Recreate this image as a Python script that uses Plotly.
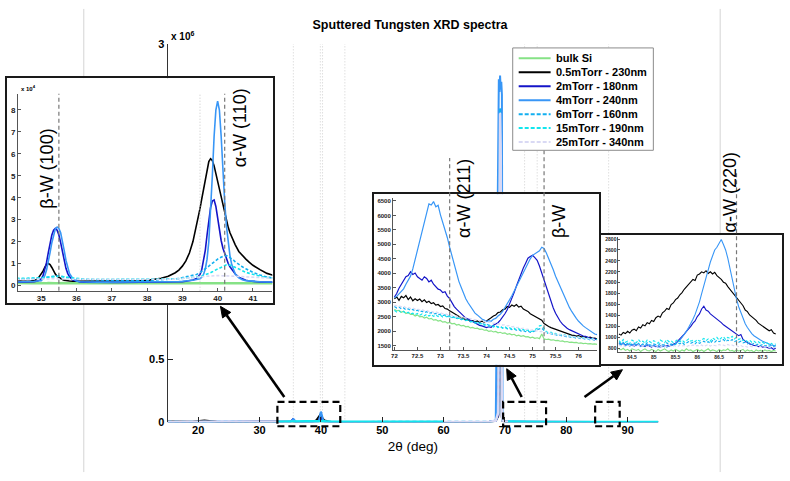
import plotly.graph_objects as go

W, H = 790, 481

# ---------------------------------------------------------------- data
names = ["bulk Si", "0.5mTorr - 230nm", "2mTorr - 180nm", "4mTorr - 240nm",
         "6mTorr - 160nm", "15mTorr - 190nm", "25mTorr - 340nm"]
keys = ["si", "p05", "p2", "p4", "p6", "p15", "p25"]

# --- window A : 34.3-41.6 deg, intensity in units of 1e4 counts
tt_a = [34.3, 34.4, 34.5, 34.6, 34.7, 34.8, 34.9,
        35.0, 35.05, 35.1, 35.15, 35.2, 35.25, 35.3, 35.35, 35.4, 35.45, 35.5, 35.55, 35.6, 35.65, 35.7, 35.75, 35.8,
        35.9, 36.0, 36.1, 36.2,
        36.4, 36.6, 36.8, 37.0, 37.2, 37.4, 37.6, 37.8, 38.0, 38.2, 38.4, 38.6, 38.8,
        38.9, 39.0, 39.1, 39.2, 39.3, 39.4,
        39.5, 39.55, 39.6, 39.65, 39.7, 39.75, 39.8, 39.85, 39.9, 39.95, 40.0, 40.05, 40.1, 40.15, 40.2, 40.25, 40.3, 40.35, 40.4, 40.45, 40.5,
        40.6, 40.7, 40.8, 40.9, 41.0,
        41.2, 41.4, 41.6]
a_si = [0.11, 0.10, 0.11, 0.10, 0.10, 0.11, 0.10,
        0.10, 0.11, 0.10, 0.10, 0.11, 0.10, 0.10, 0.11, 0.10, 0.10, 0.11, 0.10, 0.10, 0.11, 0.10, 0.10, 0.11,
        0.10, 0.10, 0.11, 0.10,
        0.10, 0.11, 0.10, 0.10, 0.11, 0.10, 0.10, 0.11, 0.10, 0.10, 0.11, 0.10, 0.10,
        0.11, 0.10, 0.10, 0.11, 0.10, 0.10,
        0.11, 0.10, 0.10, 0.11, 0.10, 0.10, 0.11, 0.10, 0.10, 0.11, 0.10, 0.10, 0.11, 0.10, 0.10, 0.11, 0.10, 0.10, 0.11, 0.10, 0.10,
        0.11, 0.10, 0.10, 0.11, 0.10,
        0.10, 0.11, 0.10]
a_p05 = [0.20, 0.19, 0.20, 0.19, 0.20, 0.22, 0.30,
         0.50, 0.65, 0.82, 0.95, 1.00, 0.95, 0.82, 0.66, 0.52, 0.42, 0.36, 0.31, 0.27, 0.24, 0.22, 0.21, 0.20,
         0.19, 0.19, 0.18, 0.18,
         0.18, 0.18, 0.18, 0.18, 0.19, 0.19, 0.20, 0.21, 0.23, 0.27, 0.33, 0.42, 0.58,
         0.70, 0.88, 1.12, 1.48, 2.00, 2.70,
         3.50, 3.95, 4.40, 4.90, 5.35, 5.65, 5.78, 5.70, 5.45, 5.10, 4.70, 4.35, 4.00, 3.60, 3.25, 2.95, 2.65, 2.40, 2.20, 2.00, 1.85,
         1.55, 1.35, 1.20, 1.05, 0.92,
         0.72, 0.55, 0.45]
a_p2 = [0.15, 0.15, 0.16, 0.15, 0.16, 0.17, 0.20,
        0.30, 0.45, 0.70, 1.05, 1.50, 1.95, 2.30, 2.52, 2.60, 2.52, 2.30, 1.95, 1.50, 1.10, 0.78, 0.55, 0.40,
        0.25, 0.19, 0.16, 0.15,
        0.14, 0.14, 0.14, 0.14, 0.14, 0.14, 0.14, 0.14, 0.14, 0.15, 0.15, 0.15, 0.16,
        0.16, 0.17, 0.19, 0.21, 0.25, 0.32,
        0.50, 0.72, 1.10, 1.60, 2.30, 3.00, 3.55, 3.85, 3.90, 3.60, 3.05, 2.50, 2.05, 1.70, 1.45, 1.20, 1.00, 0.85, 0.72, 0.62, 0.52,
        0.38, 0.30, 0.24, 0.20, 0.18,
        0.16, 0.15, 0.15]
a_p4 = [0.16, 0.16, 0.17, 0.17, 0.18, 0.19, 0.20,
        0.22, 0.30, 0.45, 0.70, 1.05, 1.50, 1.95, 2.35, 2.58, 2.66, 2.60, 2.40, 2.05, 1.60, 1.15, 0.80, 0.55,
        0.30, 0.20, 0.17, 0.16,
        0.15, 0.15, 0.15, 0.15, 0.15, 0.15, 0.15, 0.15, 0.15, 0.16, 0.16, 0.17, 0.18,
        0.18, 0.19, 0.20, 0.22, 0.24, 0.27,
        0.30, 0.38, 0.50, 0.75, 1.20, 2.00, 3.30, 5.00, 6.80, 8.00, 8.40, 8.00, 6.80, 5.20, 3.80, 2.70, 1.90, 1.35, 0.95, 0.70, 0.52,
        0.35, 0.26, 0.22, 0.20, 0.18,
        0.17, 0.16, 0.16]
a_p6 = [0.28, 0.29, 0.28, 0.29, 0.30, 0.30, 0.31,
        0.32, 0.34, 0.35, 0.37, 0.38, 0.40, 0.42, 0.44, 0.45, 0.46, 0.45, 0.43, 0.40, 0.38, 0.36, 0.35, 0.33,
        0.31, 0.29, 0.28, 0.27,
        0.26, 0.25, 0.24, 0.24, 0.23, 0.23, 0.22, 0.22, 0.23, 0.24, 0.25, 0.27, 0.30,
        0.32, 0.35, 0.38, 0.42, 0.46, 0.50,
        0.58, 0.63, 0.70, 0.76, 0.82, 0.88, 0.95, 1.02, 1.08, 1.14, 1.20, 1.25, 1.30, 1.33, 1.35, 1.36, 1.33, 1.28, 1.22, 1.15, 1.08,
        0.95, 0.85, 0.76, 0.68, 0.60,
        0.48, 0.38, 0.33]
a_p15 = [0.33, 0.32, 0.33, 0.33, 0.34, 0.33, 0.34,
         0.35, 0.36, 0.37, 0.38, 0.39, 0.40, 0.40, 0.41, 0.42, 0.42, 0.42, 0.41, 0.40, 0.38, 0.36, 0.35, 0.34,
         0.32, 0.30, 0.29, 0.29,
         0.28, 0.28, 0.28, 0.27, 0.27, 0.27, 0.27, 0.27, 0.27, 0.28, 0.28, 0.29, 0.30,
         0.31, 0.32, 0.33, 0.34, 0.35, 0.37,
         0.40, 0.42, 0.45, 0.48, 0.51, 0.55, 0.58, 0.62, 0.67, 0.71, 0.75, 0.80, 0.85, 0.89, 0.92, 0.94, 0.95, 0.94, 0.90, 0.86, 0.82,
         0.75, 0.67, 0.60, 0.55, 0.50,
         0.42, 0.37, 0.34]
a_p25 = [0.27, 0.27, 0.28, 0.27, 0.28, 0.28, 0.28,
         0.28, 0.29, 0.29, 0.30, 0.30, 0.30, 0.31, 0.31, 0.32, 0.32, 0.32, 0.31, 0.31, 0.30, 0.30, 0.29, 0.29,
         0.28, 0.28, 0.27, 0.27,
         0.26, 0.26, 0.25, 0.25, 0.25, 0.25, 0.25, 0.25, 0.26, 0.26, 0.27, 0.28, 0.29,
         0.30, 0.31, 0.32, 0.33, 0.35, 0.37,
         0.39, 0.40, 0.41, 0.42, 0.43, 0.43, 0.44, 0.44, 0.45, 0.45, 0.45, 0.45, 0.45, 0.45, 0.44, 0.44, 0.43, 0.43, 0.42, 0.42, 0.42,
         0.41, 0.40, 0.39, 0.39, 0.38,
         0.36, 0.34, 0.33]

# --- window B : 72.0-76.4 deg, counts
tt_b = [72.00, 72.05, 72.10, 72.15, 72.20, 72.25, 72.30, 72.35, 72.40, 72.45,
        72.50, 72.55, 72.60, 72.65, 72.70, 72.75, 72.80, 72.85, 72.90, 72.95,
        73.00, 73.05, 73.10, 73.15, 73.20, 73.25, 73.30, 73.35, 73.40, 73.45,
        73.50, 73.55, 73.60, 73.65, 73.70, 73.75, 73.80, 73.85, 73.90, 73.95,
        74.00, 74.05, 74.10, 74.15, 74.20, 74.25, 74.30, 74.35, 74.40, 74.45,
        74.50, 74.55, 74.60, 74.65, 74.70, 74.75, 74.80, 74.85, 74.90, 74.95,
        75.00, 75.05, 75.10, 75.15, 75.20, 75.25, 75.30, 75.35, 75.40, 75.45,
        75.50, 75.55, 75.60, 75.65, 75.70, 75.75, 75.80, 75.85, 75.90, 75.95,
        76.00, 76.05, 76.10, 76.15, 76.20, 76.25, 76.30, 76.35, 76.40]
b_si = [2760, 2700, 2720, 2650, 2690, 2610, 2640, 2580, 2590, 2520,
        2560, 2490, 2510, 2450, 2480, 2420, 2440, 2380, 2400, 2350,
        2370, 2310, 2330, 2280, 2300, 2250, 2270, 2210, 2230, 2180,
        2200, 2150, 2160, 2110, 2130, 2090, 2100, 2060, 2070, 2030,
        2040, 1990, 2010, 1970, 1990, 1940, 1960, 1920, 1940, 1890,
        1910, 1870, 1890, 1840, 1860, 1820, 1840, 1800, 1810, 1770,
        1790, 1750, 1770, 1740, 1900, 1730, 1710, 1720, 1690, 1700,
        1670, 1680, 1650, 1660, 1630, 1640, 1610, 1620, 1600, 1610,
        1580, 1590, 1570, 1580, 1560, 1570, 1550, 1560, 1540]
b_p05 = [3120, 3180, 3060, 3200, 3150, 3230, 3090, 3180, 3050, 3120,
         3060, 3110, 3020, 3080, 2990, 3030, 2950, 2980, 2900, 2920,
         2850, 2870, 2780, 2760, 2700, 2650, 2600, 2540, 2520, 2460,
         2440, 2380, 2400, 2340, 2360, 2320, 2350, 2300, 2340, 2310,
         2350, 2420, 2460, 2520, 2560, 2640, 2660, 2740, 2760, 2850,
         2820, 2900, 2860, 2920, 2830, 2860, 2760, 2720, 2680, 2600,
         2560, 2500, 2470, 2420, 2380, 2260, 2200, 2160, 2120, 2090,
         2060, 2020, 2000, 1960, 1940, 1900, 1880, 1860, 1850, 1830,
         1840, 1800, 1810, 1780, 1770, 1790, 1750, 1760, 1730]
b_p2 = [3180, 3300, 3480, 3620, 3750, 3880, 3920, 4050, 3960, 4010,
        3880, 3830, 3760, 3880, 3820, 3700, 3760, 3620, 3520, 3450,
        3420, 3330, 3360, 3210, 3120, 2960, 2850, 2760, 2690, 2610,
        2530, 2450, 2420, 2370, 2330, 2290, 2240, 2200, 2180, 2140,
        2120, 2150, 2130, 2200, 2240, 2290, 2380, 2480, 2600, 2740,
        2920, 3130, 3330, 3560, 3790, 3990, 4180, 4350, 4520, 4580,
        4620, 4540, 4450, 4250, 4010, 3760, 3500, 3250, 3000, 2800,
        2620, 2460, 2340, 2240, 2160, 2100, 2050, 2010, 1980, 1940,
        1900, 1870, 1830, 1820, 1780, 1760, 1750, 1720, 1700]
b_p4 = [3150, 3200, 3290, 3380, 3460, 3620, 3780, 3900, 4150, 4480,
        4850, 5150, 5480, 5820, 6120, 6400, 6360, 6480, 6300, 6350,
        6020, 5780, 5500, 5230, 4900, 4600, 4250, 3950, 3720, 3520,
        3300, 3120, 2980, 2860, 2750, 2620, 2560, 2480, 2420, 2380,
        2330, 2360, 2340, 2410, 2440, 2520, 2580, 2680, 2800, 2920,
        3080, 3220, 3380, 3550, 3720, 3860, 4020, 4180, 4330, 4500,
        4620, 4680, 4720, 4780, 4900, 4860, 4700, 4520, 4330, 4120,
        3900, 3720, 3520, 3330, 3150, 2980, 2820, 2680, 2550, 2440,
        2340, 2250, 2180, 2120, 2060, 2000, 1960, 1900, 1880]
b_p6 = [2850, 2800, 2830, 2770, 2800, 2740, 2770, 2720, 2750, 2690,
        2720, 2670, 2690, 2640, 2670, 2610, 2640, 2590, 2610, 2560,
        2590, 2540, 2560, 2500, 2530, 2470, 2500, 2440, 2460, 2400,
        2420, 2370, 2390, 2330, 2350, 2300, 2320, 2270, 2280, 2230,
        2250, 2200, 2220, 2170, 2190, 2140, 2160, 2110, 2130, 2080,
        2100, 2050, 2070, 2030, 2050, 2000, 2020, 1980, 2000, 1960,
        1980, 2000, 2050, 2080, 2100, 2020, 1950, 1900, 1920, 1870,
        1880, 1840, 1860, 1820, 1830, 1790, 1810, 1770, 1790, 1750,
        1770, 1730, 1750, 1720, 1730, 1700, 1710, 1680, 1700]
b_p15 = [2720, 2660, 2700, 2640, 2680, 2610, 2650, 2590, 2620, 2570,
         2610, 2550, 2590, 2530, 2580, 2520, 2570, 2510, 2560, 2500,
         2550, 2490, 2540, 2470, 2510, 2450, 2480, 2420, 2450, 2390,
         2420, 2360, 2380, 2320, 2330, 2280, 2290, 2240, 2260, 2200,
         2220, 2170, 2200, 2140, 2180, 2120, 2160, 2100, 2150, 2090,
         2120, 2070, 2100, 2040, 2080, 2020, 2060, 2000, 2040, 1980,
         2000, 2040, 2100, 2180, 2200, 2090, 1980, 1940, 1960, 1900,
         1920, 1870, 1890, 1850, 1870, 1820, 1840, 1790, 1820, 1780,
         1800, 1760, 1780, 1740, 1760, 1720, 1740, 1700, 1720]
b_p25 = [2900, 2870, 2880, 2840, 2860, 2810, 2830, 2780, 2800, 2760,
         2770, 2730, 2750, 2700, 2720, 2680, 2690, 2650, 2670, 2630,
         2640, 2600, 2610, 2570, 2580, 2540, 2550, 2510, 2520, 2480,
         2490, 2450, 2460, 2420, 2430, 2390, 2400, 2360, 2370, 2330,
         2340, 2300, 2310, 2270, 2280, 2240, 2250, 2210, 2220, 2180,
         2190, 2150, 2160, 2120, 2130, 2090, 2100, 2060, 2070, 2030,
         2040, 2000, 2010, 1980, 1990, 1950, 1960, 1920, 1930, 1890,
         1900, 1870, 1880, 1840, 1850, 1820, 1830, 1800, 1810, 1780,
         1790, 1760, 1770, 1740, 1750, 1720, 1730, 1700, 1710]

# --- window C : 84.2-87.8 deg, counts
tt_c = [84.20, 84.25, 84.30, 84.35, 84.40, 84.45, 84.50, 84.55, 84.60, 84.65, 84.70, 84.75, 84.80, 84.85, 84.90, 84.95,
        85.00, 85.05, 85.10, 85.15, 85.20, 85.25, 85.30, 85.35, 85.40, 85.45, 85.50, 85.55, 85.60, 85.65, 85.70, 85.75, 85.80, 85.85, 85.90, 85.95,
        86.00, 86.05, 86.10, 86.15, 86.20, 86.25, 86.30, 86.35, 86.40, 86.45, 86.50, 86.55, 86.60, 86.65, 86.70, 86.75, 86.80, 86.85, 86.90, 86.95,
        87.00, 87.05, 87.10, 87.15, 87.20, 87.25, 87.30, 87.35, 87.40, 87.45, 87.50, 87.55, 87.60, 87.65, 87.70, 87.75, 87.80]
c_si = [790, 770, 800, 760, 780, 750, 790, 770, 760, 780, 740, 770, 790, 760, 750, 780,
        760, 740, 780, 750, 770, 790, 760, 740, 770, 750, 780, 760, 740, 770, 750, 790, 760, 770, 740, 760,
        780, 750, 770, 740, 760, 790, 750, 770, 760, 740, 780, 750, 770, 760, 790, 750, 760, 740, 770, 750,
        760, 780, 740, 770, 750, 760, 730, 770, 750, 760, 740, 770, 750, 760, 740, 760, 750]
c_p05 = [1060, 1040, 1090, 1070, 1110, 1080, 1130, 1150, 1120, 1190, 1170, 1230, 1210, 1270, 1250, 1310,
         1290, 1360, 1390, 1370, 1450, 1480, 1530, 1510, 1600, 1630, 1690, 1720, 1780, 1820, 1880, 1930, 1960, 2010, 2060, 2040,
         2140, 2160, 2200, 2180, 2220, 2170, 2200, 2160, 2190, 2130, 2100, 2060, 2010, 1990, 1930, 1880, 1830, 1790, 1720, 1680,
         1630, 1580, 1500, 1470, 1410, 1380, 1340, 1310, 1260, 1230, 1200, 1170, 1150, 1120, 1140, 1080, 1060]
c_p2 = [900, 870, 890, 860, 880, 850, 870, 840, 860, 870, 840, 850, 830, 860, 840, 820,
        850, 830, 840, 820, 840, 830, 850, 840, 860, 870, 890, 930, 970, 1020, 1060, 1110, 1150, 1200, 1260, 1300,
        1380, 1430, 1520, 1570, 1500, 1480, 1430, 1400, 1360, 1340, 1300, 1270, 1230, 1200, 1170, 1140, 1110, 1080, 1060, 1030,
        1050, 960, 930, 900, 880, 870, 850, 850, 830, 840, 820, 830, 810, 800, 810, 780, 800]
c_p4 = [880, 860, 900, 850, 870, 840, 860, 880, 850, 870, 830, 860, 840, 870, 850, 830,
        860, 840, 820, 850, 830, 850, 820, 840, 860, 850, 880, 910, 950, 1000, 1050, 1110, 1180, 1250, 1330, 1420,
        1520, 1650, 1800, 1950, 2100, 2240, 2380, 2490, 2600, 2650, 2720, 2790, 2700, 2600, 2450, 2260, 2050, 1860, 1700, 1560,
        1450, 1340, 1250, 1180, 1120, 1070, 1030, 1000, 980, 950, 930, 910, 890, 870, 860, 850, 840]
c_p6 = [900, 870, 910, 860, 890, 850, 880, 900, 860, 890, 850, 880, 860, 900, 870, 850,
        880, 860, 850, 890, 860, 870, 900, 860, 880, 850, 870, 900, 880, 910, 870, 900, 920, 890, 910, 880,
        920, 890, 910, 930, 900, 920, 890, 940, 910, 950, 920, 940, 960, 920, 950, 930, 960, 920, 940, 910,
        930, 900, 910, 880, 900, 870, 890, 860, 880, 850, 870, 840, 860, 840, 850, 830, 850]
c_p15 = [940, 900, 960, 910, 930, 880, 950, 920, 900, 960, 910, 930, 890, 950, 920, 900,
         940, 910, 890, 950, 920, 900, 960, 920, 940, 900, 930, 960, 920, 950, 910, 940, 970, 930, 950, 920,
         960, 930, 950, 980, 940, 970, 930, 990, 960, 1000, 950, 990, 1010, 960, 1000, 980, 1020, 970, 1000, 960,
         980, 940, 960, 920, 950, 910, 930, 900, 920, 890, 910, 880, 900, 870, 890, 860, 880]
c_p25 = [860, 840, 850, 830, 860, 840, 830, 850, 840, 860, 830, 850, 840, 830, 850, 840,
         830, 850, 840, 820, 850, 830, 840, 860, 830, 850, 840, 830, 860, 840, 850, 830, 850, 840, 860, 840,
         850, 840, 860, 830, 850, 870, 840, 860, 850, 840, 870, 850, 860, 840, 870, 850, 860, 840, 850, 830,
         850, 830, 840, 820, 840, 830, 820, 840, 820, 830, 810, 830, 820, 810, 830, 810, 820]

# --- full-range scan outside the three windows, counts (None = not scanned)
tt_o1 = [15, 17, 19, 21, 23, 25, 27, 29, 31, 33, 34.2]
tt_o2 = [41.8, 43, 45, 48, 51, 54, 57, 60, 62, 64, 66, 67.5, 68.5, 68.9, 69.0, 69.1, 69.2, 69.3, 69.4,
         69.5, 69.6, 70.0, 70.5, 71.0, 71.6]
tt_o3 = [77, 78.5, 80, 81.5, 83, 84.0]
tt_o4 = [88.2, 89.5, 91, 93, 95]

o1 = {
    "si":  [3000, 2500, 2200, 1800, 1500, 1300, 1100, 1000, 950, 900, 900],
    "p05": [9000, 6000, 5000, 15000, 4000, 3500, 3000, 2500, 2200, 2000, 2000],
    "p2":  [3000, 2600, 2300, 2000, 1800, 1700, 1600, 1500, 1500, 1400, 1500],
    "p4":  [3500, 3000, 2700, 2400, 2200, 2000, 1900, 1800, 1700, 1600, 1600],
    "p6":  [6000, 5000, 4500, 4000, 3700, 3500, 3300, 3100, 3000, 2900, 2800],
    "p15": [None, None, None, None, None, None, None, None, None, 3500, 3300],
    "p25": [5000, 4500, 4000, 3700, 3500, 3300, 3100, 3000, 2900, 2800, 2750],
}
o2 = {
    "si":  [900, 800, 700, 650, 620, 600, 640, 800, 1000, 1300, 1800, 3000, 12000, 60000, 700000,
            2150000, 2250000, 1500000, 300000, 40000, 12000, 4500, 3500, 3000, 2800],
    "p05": [4200, 3200, 2600, 2300, 2200, 2300, 2500, 2700, 2900, 3100, 3500, 4500, 12000, 50000, 500000,
            1750000, 1900000, 1200000, 250000, 35000, 12000, 5000, 4000, 3500, 3200],
    "p2":  [1400, 1200, 1300, 1500, 1600, 1700, 2000, 2200, 2400, 2700, 3100, 4200, 12000, 60000, 650000,
            2200000, 2350000, 1600000, 350000, 45000, 14000, 5500, 4200, 3600, 3300],
    "p4":  [1700, 1400, 1500, 1700, 1800, 1900, 2200, 2400, 2600, 2900, 3300, 4500, 14000, 2580000, 2720000,
            2620000, 2750000, 2640000, 2700000, 2600000, 20000, 6000, 4500, 3800, 3300],
    "p6":  [3300, 2800, 2600, 2500, 2500, 2600, 2700, 2900, 3100, 3300, 3700, 4800, 13000, 70000, 800000,
            2450000, 2500000, 2000000, 500000, 50000, 15000, 5500, 4200, 3400, 3000],
    "p15": [3300, 2900, 2700, 2600, 2600, 2700, 2800, 3000, None, None, None, None, None, None, None,
            None, None, None, None, None, None, None, 4000, 3300, 2900],
    "p25": [2900, 2600, 2500, 2400, 2400, 2500, 2600, 2800, 3000, 3200, 3600, 4700, 13000, 75000, 850000,
            2400000, 2450000, 2200000, 600000, 60000, 15000, 5500, 4200, 3500, 3100],
}
o3 = {
    "si":  [1400, 1200, 1000, 900, 800, 780],
    "p05": [1600, 1400, 1250, 1150, 1100, 1060],
    "p2":  [1600, 1300, 1100, 1000, 920, 900],
    "p4":  [1700, 1400, 1200, 1000, 920, 880],
    "p6":  [1600, 1350, 1150, 1000, 920, 900],
    "p15": [1600, 1350, 1150, 1050, 960, 940],
    "p25": [1550, 1300, 1100, 980, 880, 860],
}
o4 = {
    "si":  [760, 740, 720, 700, 690],
    "p05": [1000, 900, 850, 800, 780],
    "p2":  [790, 760, 740, 720, 700],
    "p4":  [820, 780, 750, 730, 710],
    "p6":  [840, 800, 770, 740, 720],
    "p15": [860, 820, 790, 760, 740],
    "p25": [800, 770, 750, 730, 710],
}

win_a = {"si": a_si, "p05": a_p05, "p2": a_p2, "p4": a_p4, "p6": a_p6, "p15": a_p15, "p25": a_p25}
win_b = {"si": b_si, "p05": b_p05, "p2": b_p2, "p4": b_p4, "p6": b_p6, "p15": b_p15, "p25": b_p25}
win_c = {"si": c_si, "p05": c_p05, "p2": c_p2, "p4": c_p4, "p6": c_p6, "p15": c_p15, "p25": c_p25}

# reference peak positions (deg)
ref_main = [35.5, 39.9, 40.26, 43.9, 73.2, 75.25, 86.9]

main_xticks = [20, 30, 40, 50, 60, 70, 80, 90]
main_yticks = [0, 0.5, 3]

# ---------------------------------------------------------------- styles
colors = {"si": "#86e286", "p05": "#000000", "p2": "#1414c8", "p4": "#3896f6",
          "p6": "#12aff0", "p15": "#12e6ee", "p25": "#d9d9f4"}
dashed = {"p6", "p15", "p25"}
FONT = "Liberation Sans, Arial, sans-serif"


def px(xp):
    return xp / W


def py(yp):
    return 1 - yp / H


def none_scale(vals, f):
    return [None if v is None else v * f for v in vals]


for k in keys:
    assert len(win_a[k]) == len(tt_a)
    assert len(win_b[k]) == len(tt_b)
    assert len(win_c[k]) == len(tt_c)
    assert len(o1[k]) == len(tt_o1) and len(o2[k]) == len(tt_o2)
    assert len(o3[k]) == len(tt_o3) and len(o4[k]) == len(tt_o4)

fig = go.Figure()

# full-range overview (units of 1e6 counts); the 15mTorr scan sits on top
main_order = ["si", "p05", "p2", "p4", "p6", "p25", "p15"]
main_style = {"p6": dict(width=2, dash="4px,3px"), "p25": dict(width=2.5),
              "p15": dict(width=3)}
x_full = tt_o1 + tt_a + tt_o2 + tt_b + tt_o3 + tt_c + tt_o4
for k in main_order:
    y_full = (o1[k] + none_scale(win_a[k], 1e4) + o2[k] + win_b[k] + o3[k]
              + win_c[k] + o4[k])
    style = dict(color=colors[k], **main_style.get(k, dict(width=2)))
    fig.add_trace(go.Scatter(
        x=x_full, y=none_scale(y_full, 1e-6), mode="lines", xaxis="x", yaxis="y",
        line=style, showlegend=False, hoverinfo="skip"))

# white framed panels behind the three zoom windows (an empty trace makes
# plotly create each panel subplot)
for ax in ("2", "4", "6"):
    fig.add_trace(go.Scatter(x=[], y=[], xaxis="x" + ax, yaxis="y" + ax,
                             showlegend=False, hoverinfo="skip"))

# zoom windows
for ax, tt, win, lw in (("3", tt_a, win_a, 1.6), ("5", tt_b, win_b, 1.2), ("7", tt_c, win_c, 1.1)):
    for k in keys:
        fig.add_trace(go.Scatter(
            x=tt, y=win[k], mode="lines", xaxis="x" + ax, yaxis="y" + ax,
            line=dict(color=colors[k], width=(lw + 1.0) if k == "si" and ax == "3" else lw,
                      dash="3px,2px" if k in dashed else "solid"),
            showlegend=False, hoverinfo="skip"))

# ---------------------------------------------------------------- axes
def panel_axes(xd, yd):
    common = dict(range=[0, 1], showline=True, mirror=True, linecolor="#1a1a1a",
                  linewidth=1.6, ticks="", showticklabels=False, showgrid=False,
                  zeroline=False, fixedrange=True)
    return (dict(domain=[px(xd[0]), px(xd[1])], **common),
            dict(domain=[py(yd[1]), py(yd[0])], **common))


def inset_axes(xd, yd, xr, yr, xt, yt, fs, ticklen=3):
    base = dict(showline=True, linecolor="#555", linewidth=1, ticks="inside",
                ticklen=ticklen, tickcolor="#555", showgrid=False, zeroline=False,
                tickfont=dict(family=FONT, size=fs, color="#222", weight="bold"))
    xa = dict(domain=[px(xd[0]), px(xd[1])], range=xr, tickvals=xt, **base)
    ya = dict(domain=[py(yd[1]), py(yd[0])], range=yr, tickvals=yt, **base)
    return xa, ya


x2, y2 = panel_axes((5, 272), (74, 305))
x4, y4 = panel_axes((373, 599), (193, 368))
x6, y6 = panel_axes((601, 782), (235, 367))
x3, y3 = inset_axes((16, 271), (90, 292), [34.34, 41.55], [-0.24, 8.74],
                    [35, 36, 37, 38, 39, 40, 41], [0, 1, 2, 3, 4, 5, 6, 7, 8], 8)
x5, y5 = inset_axes((392, 597), (197, 353), [71.97, 76.41], [1340, 6600],
                    [72, 72.5, 73, 73.5, 74, 74.5, 75, 75.5, 76],
                    [1500, 2000, 2500, 3000, 3500, 4000, 4500, 5000, 5500, 6000, 6500], 6)
x7, y7 = inset_axes((618, 777), (237, 355), [84.19, 87.83], [729, 2836],
                    [84.5, 85, 85.5, 86, 86.5, 87, 87.5],
                    [800, 1000, 1200, 1400, 1600, 1800, 2000, 2200, 2400, 2600, 2800], 5, 2)
for a, b, n in ((x2, y2, "2"), (x3, y3, "3"), (x4, y4, "4"), (x5, y5, "5"), (x6, y6, "6"), (x7, y7, "7")):
    a["anchor"] = "y" + n
    b["anchor"] = "x" + n

fig.update_layout(
    width=W, height=H, margin=dict(l=0, r=0, t=0, b=0),
    paper_bgcolor="white", plot_bgcolor="white",
    font=dict(family=FONT, color="#000"),
    title=dict(text="Sputtered Tungsten XRD spectra", x=px(410), y=py(25),
               xanchor="center", yanchor="middle",
               font=dict(family=FONT, size=12.5, weight="bold", color="#000")),
    xaxis=dict(domain=[px(166), px(658)], range=[15, 95], tickvals=main_xticks,
               ticks="inside", ticklen=5, tickcolor="#222", showline=False,
               showgrid=False, zeroline=False, anchor="y",
               tickfont=dict(family=FONT, size=11, weight="bold"),
               title=dict(text="2θ (deg)", standoff=6, font=dict(family=FONT, size=13.5))),
    yaxis=dict(domain=[py(427), py(39)], range=[0, 3], anchor="x",
               tickvals=main_yticks, ticktext=["0", "0.5", "3"],
               ticks="inside", ticklen=5, tickcolor="#222", showline=True,
               linecolor="#333", linewidth=1, showgrid=False, zeroline=False,
               tickfont=dict(family=FONT, size=11, weight="bold")),
    xaxis2=x2, yaxis2=y2, xaxis3=x3, yaxis3=y3, xaxis4=x4, yaxis4=y4,
    xaxis5=x5, yaxis5=y5, xaxis6=x6, yaxis6=y6, xaxis7=x7, yaxis7=y7,
)

shapes = []
# faint frame lines of the page
for xx in (82, 720):
    shapes.append(dict(type="line", xref="paper", yref="paper", x0=px(xx), x1=px(xx),
                       y0=py(3), y1=py(478), line=dict(color="#d4d4d4", width=1), layer="below"))
# dotted reference positions on the overview
for r in ref_main:
    shapes.append(dict(type="line", xref="x", yref="paper", x0=r, x1=r, y0=py(427), y1=py(39),
                       line=dict(color="#cfcfcf", width=1, dash="1px,2px"), layer="below"))
# dashed boxes marking the zoom windows
for lo, hi in ((32.9, 43.15), (69.7, 76.7), (84.7, 88.7)):
    shapes.append(dict(type="rect", xref="x", yref="paper", x0=lo, x1=hi, y0=py(431), y1=py(406),
                       line=dict(color="#000", width=2.2, dash="7px,4px"), layer="above"))
# reference lines inside the zoom windows
shapes.append(dict(type="line", xref="x3", yref="y3 domain", x0=39.5, x1=39.5, y0=0, y1=1,
                   line=dict(color="#c8c8c8", width=1, dash="1px,2px"), layer="above"))
for r in (35.5, 40.2):
    shapes.append(dict(type="line", xref="x3", yref="y3 domain", x0=r, x1=r, y0=0, y1=1,
                       line=dict(color="#777", width=1.2, dash="4px,3px"), layer="above"))
for r, top in ((73.2, 156), (75.25, 143)):
    shapes.append(dict(type="line", xref="x5", yref="paper", x0=r, x1=r, y0=py(353), y1=py(top),
                       line=dict(color="#777", width=1.2, dash="4px,3px"), layer="above"))
shapes.append(dict(type="line", xref="x7", yref="paper", x0=86.9, x1=86.9, y0=py(355), y1=py(170),
                   line=dict(color="#777", width=1.2, dash="4px,3px"), layer="above"))

# arrows from the dashed boxes to the zoom windows (shaft + filled head)
for hx, hy, tx, ty in ((219, 308, 283, 401), (506, 372, 521, 401), (622, 373, 584, 401)):
    dx, dy = hx - tx, hy - ty
    n = (dx * dx + dy * dy) ** 0.5
    ux, uy = dx / n, dy / n
    bx, by = hx - ux * 11, hy - uy * 11
    shapes.append(dict(type="line", xref="paper", yref="paper", x0=px(tx), y0=py(ty),
                       x1=px(bx), y1=py(by), line=dict(color="#000", width=2.6), layer="above"))
    p1 = (bx - uy * 5, by + ux * 5)
    p2 = (bx + uy * 5, by - ux * 5)
    path = "M {:.5f} {:.5f} L {:.5f} {:.5f} L {:.5f} {:.5f} Z".format(
        px(hx), py(hy), px(p1[0]), py(p1[1]), px(p2[0]), py(p2[1]))
    shapes.append(dict(type="path", xref="paper", yref="paper", path=path,
                       fillcolor="#000", line=dict(color="#000", width=1), layer="above"))

# legend box and samples
LX0, LX1, LY0, LY1 = 512, 653, 43, 148
shapes.append(dict(type="rect", xref="paper", yref="paper", x0=px(LX0), x1=px(LX1),
                   y0=py(LY1), y1=py(LY0), line=dict(color="#8c8c8c", width=1),
                   fillcolor="white", layer="above"))
annotations = []
for i, k in enumerate(keys):
    yy = 53.7 + i * 14.3
    shapes.append(dict(type="line", xref="paper", yref="paper", x0=px(518), x1=px(550),
                       y0=py(yy), y1=py(yy), layer="above",
                       line=dict(color=colors[k], width=2, dash="4px,2px" if k in dashed else "solid")))
    annotations.append(dict(text=names[i], xref="paper", yref="paper", x=px(553), y=py(yy),
                            xanchor="left", yanchor="middle", showarrow=False,
                            font=dict(family=FONT, size=11, weight="bold", color="#000")))

# peak labels
for txt, cx, cy in (("β-W (100)", 45, 167), ("α-W (110)", 238, 125), ("α-W (211)", 463, 197),
                    ("β-W", 559, 221), ("α-W (220)", 730, 191)):
    annotations.append(dict(text=txt, xref="paper", yref="paper", x=px(cx), y=py(cy),
                            xanchor="center", yanchor="middle", textangle=-90, showarrow=False,
                            font=dict(family=FONT, size=18, color="#000")))

# scale factors
annotations.append(dict(text="x 10<sup>6</sup>", xref="paper", yref="paper", x=px(167), y=py(31),
                        xanchor="left", yanchor="middle", showarrow=False,
                        font=dict(family=FONT, size=10, weight="bold")))
annotations.append(dict(text="x 10<sup>4</sup>", xref="paper", yref="paper", x=px(17), y=py(84),
                        xanchor="left", yanchor="middle", showarrow=False,
                        font=dict(family=FONT, size=6, weight="bold")))

fig.update_layout(shapes=shapes, annotations=annotations)
fig.write_html("out.html")
